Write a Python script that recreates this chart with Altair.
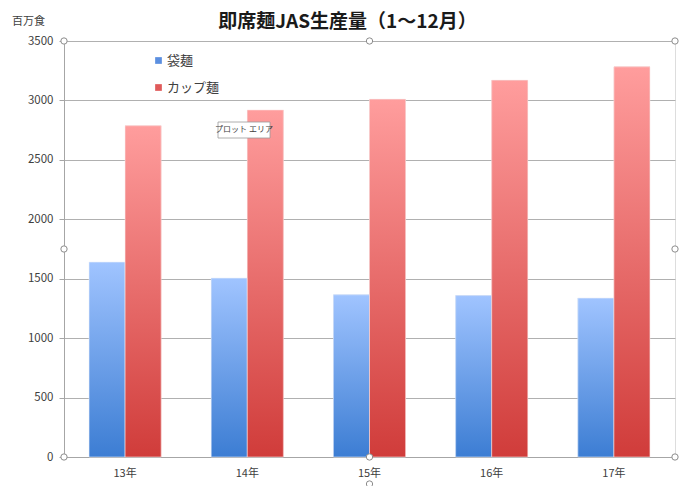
import altair as alt
import pandas as pd

years = ["13年", "14年", "15年", "16年", "17年"]
fukuro = [1640, 1505, 1365, 1358, 1337]
cup = [2787, 2920, 3010, 3170, 3283]
series = ["袋麺", "カップ麺"]

rows = []
for i, y in enumerate(years):
    rows.append({"year": y, "series": series[0], "value": fukuro[i]})
    rows.append({"year": y, "series": series[1], "value": cup[i]})
df = pd.DataFrame(rows)

FONT = "Noto Sans CJK JP"
W, H = 611, 416

xenc = alt.X("year:N", sort=years, title=None,
             scale=alt.Scale(paddingInner=0.41, paddingOuter=0.205),
             axis=alt.Axis(ticks=False, labelPadding=10, labelAngle=0, domainColor="#a6a6a6",
                           labelFontSize=11, labelColor="#404040", labelFont=FONT))
yenc = alt.Y("value:Q", title="百万食",
             scale=alt.Scale(domain=[0, 3500], nice=False),
             axis=alt.Axis(values=list(range(0, 3501, 500)), format="d", tickSize=5, tickColor="#a6a6a6",
                           domainColor="#a6a6a6", gridColor="#b0b0b0", labelPadding=6,
                           labelFontSize=11.5, labelColor="#404040", labelFont=FONT,
                           titleAngle=0, titleX=-36, titleY=-20, titleAlign="center",
                           titleBaseline="middle", titleFontSize=11, titleFontWeight="normal",
                           titleFont=FONT, titleColor="#404040"))
xoff = alt.XOffset("series:N", sort=series, scale=alt.Scale(domain=series))

base = alt.Chart(df).mark_bar().encode(
    x=xenc, y=yenc, xOffset=xoff,
    color=alt.Color("series:N", sort=series,
                    scale=alt.Scale(domain=series, range=["#5b8fe0", "#e05a5a"]),
                    legend=alt.Legend(title=None, orient="none", legendX=88, legendY=13,
                                      symbolType="square", symbolSize=45, rowPadding=13,
                                      labelFontSize=13, labelColor="#404040", labelFont=FONT,
                                      labelOffset=2)),
)

def grad(top, bottom):
    return alt.Gradient(gradient="linear",
                        stops=[alt.GradientStop(color=top, offset=0),
                               alt.GradientStop(color=bottom, offset=1)],
                        x1=0, x2=0, y1=0, y2=1)

blue = alt.Chart(df).transform_filter(alt.datum.series == series[0]).mark_bar(
    fill=grad("#a0c4ff", "#3c7dd3"), stroke="#e8eefa", strokeWidth=0.6
).encode(x=xenc, y=yenc, xOffset=xoff)
red = alt.Chart(df).transform_filter(alt.datum.series == series[1]).mark_bar(
    fill=grad("#ff9d9d", "#d03c3a"), stroke="#fae8e8", strokeWidth=0.6
).encode(x=xenc, y=yenc, xOffset=xoff)

one = alt.Data(values=[{"k": 1}])
handles = []
for hx, hy in [(0, 0), (W / 2, 0), (W, 0), (0, H / 2), (W, H / 2), (0, H), (W / 2, H), (W, H), (W / 2, H + 27)]:
    handles.append(alt.Chart(one).mark_point(shape="circle", size=40, fill="white", stroke="#8c8c8c",
                                             strokeWidth=1, opacity=1, clip=False)
                   .encode(x=alt.value(hx), y=alt.value(hy)))

tip_box = alt.Chart(one).mark_rect(fill="white", stroke="#9a9a9a", strokeWidth=0.8).encode(
    x=alt.value(154), x2=alt.value(206), y=alt.value(81), y2=alt.value(97))
tip_text = alt.Chart(one).mark_text(text="プロット エリア", fontSize=8, font=FONT, color="#404040",
                                    align="center", baseline="middle").encode(
    x=alt.value(180), y=alt.value(89))

chart = alt.layer(base, blue, red, tip_box, tip_text, *handles).properties(
    width=W, height=H,
    title=alt.TitleParams("即席麺JAS生産量（1～12月）", fontSize=19, fontWeight="bold", font=FONT,
                          color="#1a1a1a", anchor="middle", dx=-22, offset=-17),
    autosize=alt.AutoSizeParams(type="none"),
    padding={"left": 64, "top": 41, "right": 21, "bottom": 29},
).configure_view(stroke="#a6a6a6", strokeWidth=1).configure(background="white")

chart.save("out.html", embed_options={"renderer": "svg", "actions": False})
